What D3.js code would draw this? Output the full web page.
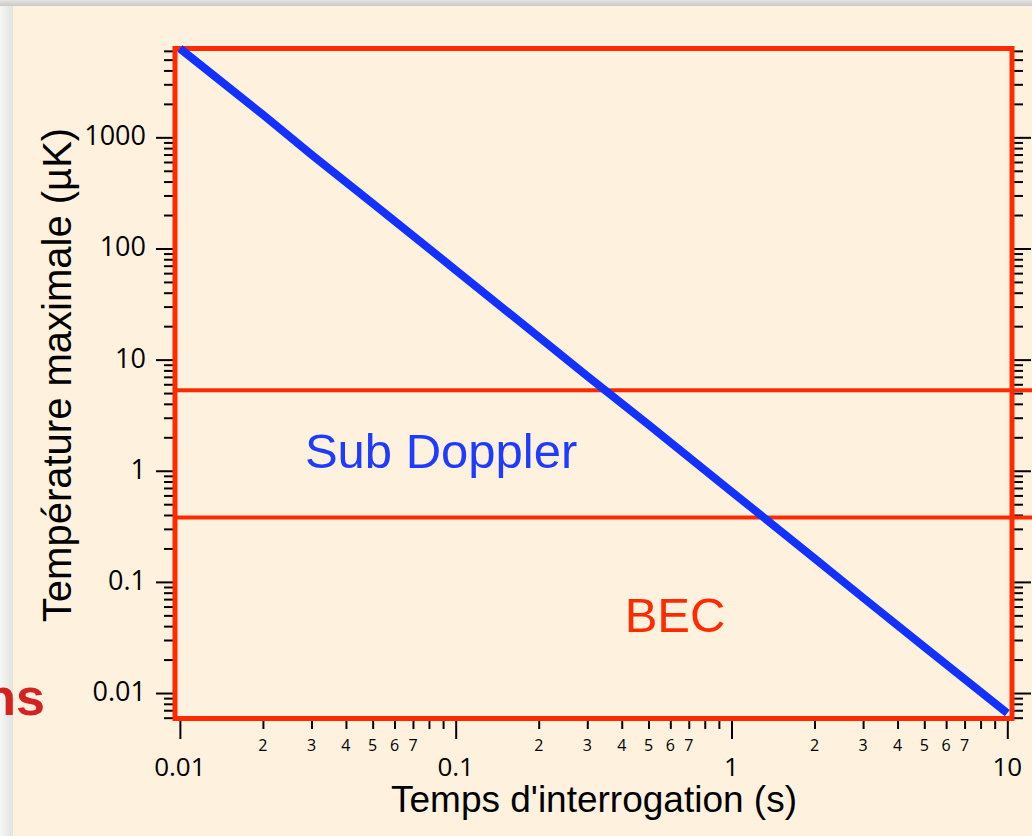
<!DOCTYPE html>
<html>
<head>
<meta charset="utf-8">
<script src="https://cdn.jsdelivr.net/npm/d3@7"></script>
<style>
  body { margin: 0; background: #e6e6e4; }
  svg { display: block; }
</style>
</head>
<body>
<div id="chart"></div>
<script>
// data
const times = [0.01, 0.02, 0.03, 0.05, 0.1, 0.2, 0.3, 0.5, 1, 2, 3, 5, 10];
const tempMax = [6300, 1600, 700, 255, 64, 16, 7.1, 2.6, 0.65, 0.163, 0.072, 0.026, 0.0066];
const limitTemps = [5.3, 0.38];            // sub Doppler / BEC thresholds (µK)
const xMajorTicks = [0.01, 0.1, 1, 10];
const yMajorTicks = [0.01, 0.1, 1, 10, 100, 1000];
const minorDigits = [2, 3, 4, 5, 6, 7, 8, 9];
const minorLabelDigits = [2, 3, 4, 5, 6, 7];
const xLim = [0.0096, 10.4];
const yLim = [0.0059, 6300];
const notes = [
  {text: "Sub Doppler", t: 0.0284, T: 1.06, color: "#1e3cff"},
  {text: "BEC", t: 0.41, T: 0.0354, color: "#ff2a00"}
];

const showChart = ()=>{
  const width = 1032, height = 836;
  const red = "#ff2a00";

  let svg = d3.select("#chart")
              .append("svg")
                .attr("width", width)
                .attr("height", height);

  // slide background
  let defs = svg.append("defs");
  let grad = defs.append("linearGradient").attr("id", "topband").attr("x1", 0).attr("x2", 0).attr("y1", 0).attr("y2", 1);
  grad.append("stop").attr("offset", "0%").attr("stop-color", "#e4e4e2");
  grad.append("stop").attr("offset", "100%").attr("stop-color", "#c9c9c7");
  let lgrad = defs.append("linearGradient").attr("id", "leftband");
  lgrad.append("stop").attr("offset", "0%").attr("stop-color", "#f6f6f4");
  lgrad.append("stop").attr("offset", "100%").attr("stop-color", "#e2e2de");

  svg.append("rect").attr("width", 13).attr("height", height).attr("fill", "url(#leftband)");
  svg.append("rect").attr("width", width).attr("height", 6).attr("fill", "url(#topband)");
  svg.append("rect").attr("x", 13).attr("y", 6).attr("width", width - 13).attr("height", height - 6).attr("fill", "#fef2de");

  // leftover word from the slide behind
  svg.append("text")
      .attr("x", 45).attr("y", 715)
      .attr("text-anchor", "end")
      .style("font-family", "'Liberation Sans', Arial, sans-serif")
      .style("font-weight", "bold")
      .style("font-size", "52px")
      .attr("fill", "#d42222")
      .text("ns");

  let x = d3.scaleLog().domain(xLim).range([175, 1012]);
  let y = d3.scaleLog().domain(yLim).range([718.5, 48.5]);

  const minorOf = (lim)=>{
    let out = [];
    for (let e = -3; e <= 4; e++) {
      minorDigits.forEach(k=>{
        let v = k * Math.pow(10, e);
        if (v >= lim[0] && v <= lim[1]) out.push(v);
      });
    }
    return out;
  };
  const xMinor = minorOf(xLim);
  const yMinor = minorOf(yLim);

  const styleAxis = (g)=>{
    g.select(".domain").remove();
    g.selectAll(".tick line").attr("stroke", "#000").attr("stroke-width", 2);
    g.selectAll(".tick text").remove();
  };

  // bottom ticks
  svg.append("g").attr("transform", "translate(0,721)")
      .call(d3.axisBottom(x).tickValues(xMajorTicks).tickSize(18)).call(styleAxis);
  svg.append("g").attr("transform", "translate(0,721)")
      .call(d3.axisBottom(x).tickValues(xMinor).tickSize(8)).call(styleAxis);

  // left ticks
  svg.append("g").attr("transform", "translate(174,0)")
      .call(d3.axisLeft(y).tickValues(yMajorTicks).tickSize(18)).call(styleAxis);
  svg.append("g").attr("transform", "translate(174,0)")
      .call(d3.axisLeft(y).tickValues(yMinor).tickSize(10)).call(styleAxis);

  // right ticks
  svg.append("g").attr("transform", "translate(1013,0)")
      .call(d3.axisRight(y).tickValues(yMajorTicks).tickSize(18)).call(styleAxis);
  svg.append("g").attr("transform", "translate(1013,0)")
      .call(d3.axisRight(y).tickValues(yMinor).tickSize(10)).call(styleAxis);

  const tickFont = "'Open Sans', 'DejaVu Sans', sans-serif";

  // x labels
  svg.append("g").selectAll("text")
      .data(xMajorTicks)
      .join("text")
        .attr("x", d=>x(d))
        .attr("y", 776)
        .attr("text-anchor", "middle")
        .style("font-family", tickFont)
        .style("font-size", "26px")
        .text(d=>d3.format("")(d));

  const mantissa = v=>Math.round(v / Math.pow(10, Math.floor(Math.log10(v) + 1e-9)));
  let xMinorLabelled = xMinor.filter(v=>minorLabelDigits.includes(mantissa(v)));
  svg.append("g").selectAll("text")
      .data(xMinorLabelled)
      .join("text")
        .attr("x", d=>x(d))
        .attr("y", 751)
        .attr("text-anchor", "middle")
        .style("font-family", tickFont)
        .style("font-size", "16px")
        .text(d=>mantissa(d));

  // y labels
  svg.append("g").selectAll("text")
      .data(yMajorTicks)
      .join("text")
        .attr("x", 146)
        .attr("y", d=>y(d) + 8)
        .attr("text-anchor", "end")
        .style("font-family", tickFont)
        .style("font-size", "27px")
        .text(d=>d3.format("")(d));

  // threshold lines
  svg.append("g").selectAll("line")
      .data(limitTemps)
      .join("line")
        .attr("x1", x(xLim[0])).attr("x2", width)
        .attr("y1", d=>y(d)).attr("y2", d=>y(d))
        .attr("stroke", red)
        .attr("stroke-width", 4);

  // frame
  svg.append("rect")
      .attr("x", x(xLim[0])).attr("y", y(yLim[1]))
      .attr("width", x(xLim[1]) - x(xLim[0]))
      .attr("height", y(yLim[0]) - y(yLim[1]))
      .attr("fill", "none")
      .attr("stroke", red)
      .attr("stroke-width", 5);

  // curve
  let line = d3.line().x(d=>x(d[0])).y(d=>y(d[1]));
  svg.append("path")
      .datum(d3.zip(times, tempMax))
      .attr("d", line)
      .attr("fill", "none")
      .attr("stroke", "#1432ff")
      .attr("stroke-width", 8)
      .attr("stroke-linejoin", "round");

  // annotations
  svg.append("g").selectAll("text")
      .data(notes)
      .join("text")
        .attr("x", d=>x(d.t))
        .attr("y", d=>y(d.T))
        .style("font-family", "'Liberation Sans', Arial, sans-serif")
        .style("font-size", "49px")
        .attr("fill", d=>d.color)
        .text(d=>d.text);

  // axis titles
  svg.append("text")
      .attr("x", 594).attr("y", 812)
      .attr("text-anchor", "middle")
      .style("font-family", "'Liberation Sans', Arial, sans-serif")
      .style("font-size", "37px")
      .text("Temps d'interrogation (s)");

  svg.append("text")
      .attr("transform", "translate(71,375) rotate(-90)")
      .attr("text-anchor", "middle")
      .style("font-family", "'Liberation Sans', Arial, sans-serif")
      .style("font-size", "40px")
      .text("Température maximale (µK)");
}

showChart()
</script>
</body>
</html>
